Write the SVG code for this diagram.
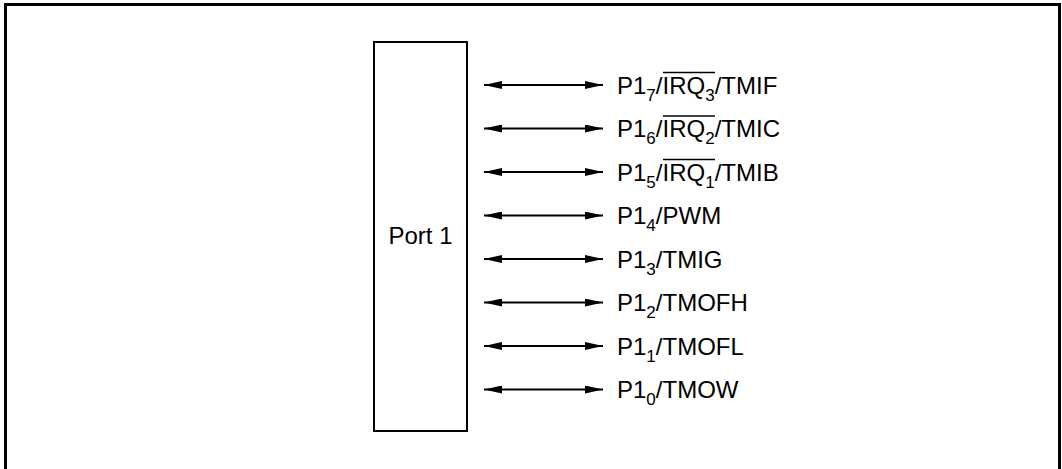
<svg xmlns="http://www.w3.org/2000/svg" width="1062" height="469" viewBox="0 0 1062 469">
<style>
.frame{fill:none;stroke:#000;stroke-width:3}
.box{fill:#fff;stroke:#000;stroke-width:2}
.conn{stroke:#000;stroke-width:2;fill:none;marker-start:url(#ah);marker-end:url(#ah)}
.lbl{font-family:"Liberation Sans",Arial,sans-serif;font-size:24px;fill:#000}
.sub{font-size:17px}
.ovl{stroke:#000;stroke-width:1.5}
</style>
<defs>
<marker id="ah" markerUnits="userSpaceOnUse" markerWidth="18" markerHeight="8" refX="18" refY="4" orient="auto-start-reverse">
<path d="M0,0 L18,4 L0,8 z" fill="#000"/>
</marker>
</defs>
<rect width="1062" height="469" fill="#fff"/>
<path class="frame" d="M5.5,475 V4.5 H1059.5 V475"/>
<g id="port1">
<rect class="box" x="374" y="42" width="93" height="389"/>
<text class="lbl" x="420.5" y="244" text-anchor="middle">Port 1</text>
</g>
<g id="connectors">
<line class="conn" x1="484" y1="85" x2="603" y2="85"/>
<line class="conn" x1="484" y1="128.5" x2="603" y2="128.5"/>
<line class="conn" x1="484" y1="172" x2="603" y2="172"/>
<line class="conn" x1="484" y1="215.5" x2="603" y2="215.5"/>
<line class="conn" x1="484" y1="259" x2="603" y2="259"/>
<line class="conn" x1="484" y1="302.5" x2="603" y2="302.5"/>
<line class="conn" x1="484" y1="346" x2="603" y2="346"/>
<line class="conn" x1="484" y1="389.5" x2="603" y2="389.5"/>
</g>
<g id="p17"><text class="lbl" x="617" y="93.5">P1<tspan class="sub" dy="7">7</tspan><tspan dy="-7">/IRQ</tspan><tspan class="sub" dy="7">3</tspan><tspan dy="-7">/TMIF</tspan></text><line class="ovl" x1="663" y1="72.5" x2="715" y2="72.5"/></g>
<g id="p16"><text class="lbl" x="617" y="137">P1<tspan class="sub" dy="7">6</tspan><tspan dy="-7">/IRQ</tspan><tspan class="sub" dy="7">2</tspan><tspan dy="-7">/TMIC</tspan></text><line class="ovl" x1="663" y1="116" x2="715" y2="116"/></g>
<g id="p15"><text class="lbl" x="617" y="180.5">P1<tspan class="sub" dy="7">5</tspan><tspan dy="-7">/IRQ</tspan><tspan class="sub" dy="7">1</tspan><tspan dy="-7">/TMIB</tspan></text><line class="ovl" x1="663" y1="159.5" x2="715" y2="159.5"/></g>
<g id="p14"><text class="lbl" x="617" y="224">P1<tspan class="sub" dy="7">4</tspan><tspan dy="-7">/PWM</tspan></text></g>
<g id="p13"><text class="lbl" x="617" y="267.5">P1<tspan class="sub" dy="7">3</tspan><tspan dy="-7">/TMIG</tspan></text></g>
<g id="p12"><text class="lbl" x="617" y="311">P1<tspan class="sub" dy="7">2</tspan><tspan dy="-7">/TMOFH</tspan></text></g>
<g id="p11"><text class="lbl" x="617" y="354.5">P1<tspan class="sub" dy="7">1</tspan><tspan dy="-7">/TMOFL</tspan></text></g>
<g id="p10"><text class="lbl" x="617" y="398">P1<tspan class="sub" dy="7">0</tspan><tspan dy="-7">/TMOW</tspan></text></g>
</svg>
